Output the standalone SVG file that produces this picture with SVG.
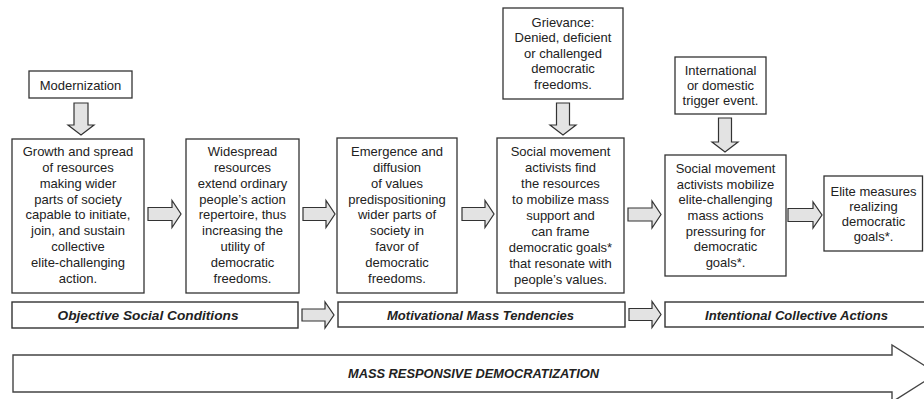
<svg xmlns="http://www.w3.org/2000/svg" width="924" height="399" viewBox="0 0 924 399">
<defs>
<style>
.box{fill:#fff;stroke:#333;stroke-width:1.3}
.bar{fill:#fff;stroke:#333;stroke-width:1.4}
.arr{fill:#e3e3e3;stroke:#333;stroke-width:1.2;stroke-linejoin:miter}
.big{fill:#fff;stroke:#444;stroke-width:1.4}
.t{font-family:"Liberation Sans",Arial,sans-serif;font-size:13px;fill:#222;text-anchor:middle}
.lb{font-family:"Liberation Sans",Arial,sans-serif;font-size:12.5px;font-weight:bold;font-style:italic;fill:#222;text-anchor:middle}
</style>
</defs>
<g id="connectors">
<polygon class="arr" points="74,103 88,103 88,125 94,125 81,135 68,125 74,125"/>
<polygon class="arr" points="556.5,103 569.5,103 569.5,125 576,125 563,135 550,125 556.5,125"/>
<polygon class="arr" points="718.5,118 731.5,118 731.5,142 738,142 725,152 712,142 718.5,142"/>
<polygon class="arr" points="148,207.5 172,207.5 172,200.5 181,214 172,227.5 172,220.5 148,220.5"/>
<polygon class="arr" points="303,207.5 326,207.5 326,200.5 335,214 326,227.5 326,220.5 303,220.5"/>
<polygon class="arr" points="462,207.5 485,207.5 485,200.5 494,214 485,227.5 485,220.5 462,220.5"/>
<polygon class="arr" points="628,208 652,208 652,201 661,214.5 652,228 652,221 628,221"/>
<polygon class="arr" points="788,208.5 813,208.5 813,202 822,215 813,228 813,221.5 788,221.5"/>
<polygon class="arr" points="302,309 325,309 325,302 334,315 325,328 325,321 302,321"/>
<polygon class="arr" points="629,308.5 652,308.5 652,301.5 661,314.5 652,327.5 652,320.5 629,320.5"/>
</g>
<g id="modernization">
<rect class="box" x="29" y="71" width="103" height="27"/>
<text class="t" x="80.5" y="89.5">Modernization</text>
</g>
<g id="grievance">
<rect class="box" x="503" y="8" width="120" height="91"/>
<text class="t"><tspan x="563" y="26.8">Grievance:</tspan><tspan x="563" dy="15.5">Denied, deficient</tspan><tspan x="563" dy="15.5">or challenged</tspan><tspan x="563" dy="15.5">democratic</tspan><tspan x="563" dy="15.5">freedoms.</tspan></text>
</g>
<g id="trigger">
<rect class="box" x="675" y="57" width="91" height="57"/>
<text class="t"><tspan x="720.5" y="75.2">International</tspan><tspan x="720.5" dy="15">or domestic</tspan><tspan x="720.5" dy="15">trigger event.</tspan></text>
</g>
<g id="growth">
<rect class="box" x="12" y="139" width="132" height="154"/>
<text class="t"><tspan x="78" y="155.8">Growth and spread</tspan><tspan x="78" dy="15.9">of resources</tspan><tspan x="78" dy="15.9">making wider</tspan><tspan x="78" dy="15.9">parts of society</tspan><tspan x="78" dy="15.9">capable to initiate,</tspan><tspan x="78" dy="15.9">join, and sustain</tspan><tspan x="78" dy="15.9">collective</tspan><tspan x="78" dy="15.9">elite-challenging</tspan><tspan x="78" dy="15.9">action.</tspan></text>
</g>
<g id="widespread">
<rect class="box" x="186" y="139" width="113" height="154"/>
<text class="t"><tspan x="242.5" y="155.8">Widespread</tspan><tspan x="242.5" dy="15.9">resources</tspan><tspan x="242.5" dy="15.9">extend ordinary</tspan><tspan x="242.5" dy="15.9">people’s action</tspan><tspan x="242.5" dy="15.9">repertoire, thus</tspan><tspan x="242.5" dy="15.9">increasing the</tspan><tspan x="242.5" dy="15.9">utility of</tspan><tspan x="242.5" dy="15.9">democratic</tspan><tspan x="242.5" dy="15.9">freedoms.</tspan></text>
</g>
<g id="emergence">
<rect class="box" x="337" y="138" width="120" height="155"/>
<text class="t"><tspan x="397" y="155.8">Emergence and</tspan><tspan x="397" dy="15.9">diffusion</tspan><tspan x="397" dy="15.9">of values</tspan><tspan x="397" dy="15.9">predispositioning</tspan><tspan x="397" dy="15.9">wider parts of</tspan><tspan x="397" dy="15.9">society in</tspan><tspan x="397" dy="15.9">favor of</tspan><tspan x="397" dy="15.9">democratic</tspan><tspan x="397" dy="15.9">freedoms.</tspan></text>
</g>
<g id="activists-find">
<rect class="box" x="497" y="138" width="127" height="155"/>
<text class="t"><tspan x="560.5" y="156">Social movement</tspan><tspan x="560.5" dy="16">activists find</tspan><tspan x="560.5" dy="16">the resources</tspan><tspan x="560.5" dy="16">to mobilize mass</tspan><tspan x="560.5" dy="16">support and</tspan><tspan x="560.5" dy="16">can frame</tspan><tspan x="560.5" dy="16">democratic goals*</tspan><tspan x="560.5" dy="16">that resonate with</tspan><tspan x="560.5" dy="16">people’s values.</tspan></text>
</g>
<g id="activists-mobilize">
<rect class="box" x="665" y="155" width="121" height="121"/>
<text class="t"><tspan x="725.5" y="172.8">Social movement</tspan><tspan x="725.5" dy="15.7">activists mobilize</tspan><tspan x="725.5" dy="15.7">elite-challenging</tspan><tspan x="725.5" dy="15.7">mass actions</tspan><tspan x="725.5" dy="15.7">pressuring for</tspan><tspan x="725.5" dy="15.7">democratic</tspan><tspan x="725.5" dy="15.7">goals*.</tspan></text>
</g>
<g id="elite-measures">
<rect class="box" x="824" y="176" width="98.5" height="75"/>
<text class="t"><tspan x="873.5" y="196.2">Elite measures</tspan><tspan x="873.5" dy="15">realizing</tspan><tspan x="873.5" dy="15">democratic</tspan><tspan x="873.5" dy="15">goals*.</tspan></text>
</g>
<g id="objective">
<rect class="bar" x="12" y="302" width="286" height="26"/>
<text class="lb" x="148" y="320" textLength="181" lengthAdjust="spacingAndGlyphs">Objective Social Conditions</text>
</g>
<g id="motivational">
<rect class="bar" x="338" y="302" width="287" height="25"/>
<text class="lb" x="480.5" y="319.5" textLength="187" lengthAdjust="spacingAndGlyphs">Motivational Mass Tendencies</text>
</g>
<g id="intentional">
<rect class="bar" x="665" y="302" width="265" height="25"/>
<text class="lb" x="796.5" y="319.5" textLength="183" lengthAdjust="spacingAndGlyphs">Intentional Collective Actions</text>
</g>
<g id="mass-responsive">
<polygon class="big" points="13,355 892,355 892,345 937,373.5 892,402 892,392 13,392"/>
<text class="lb" x="473.5" y="378" textLength="251" lengthAdjust="spacingAndGlyphs">MASS RESPONSIVE DEMOCRATIZATION</text>
</g>
</svg>
